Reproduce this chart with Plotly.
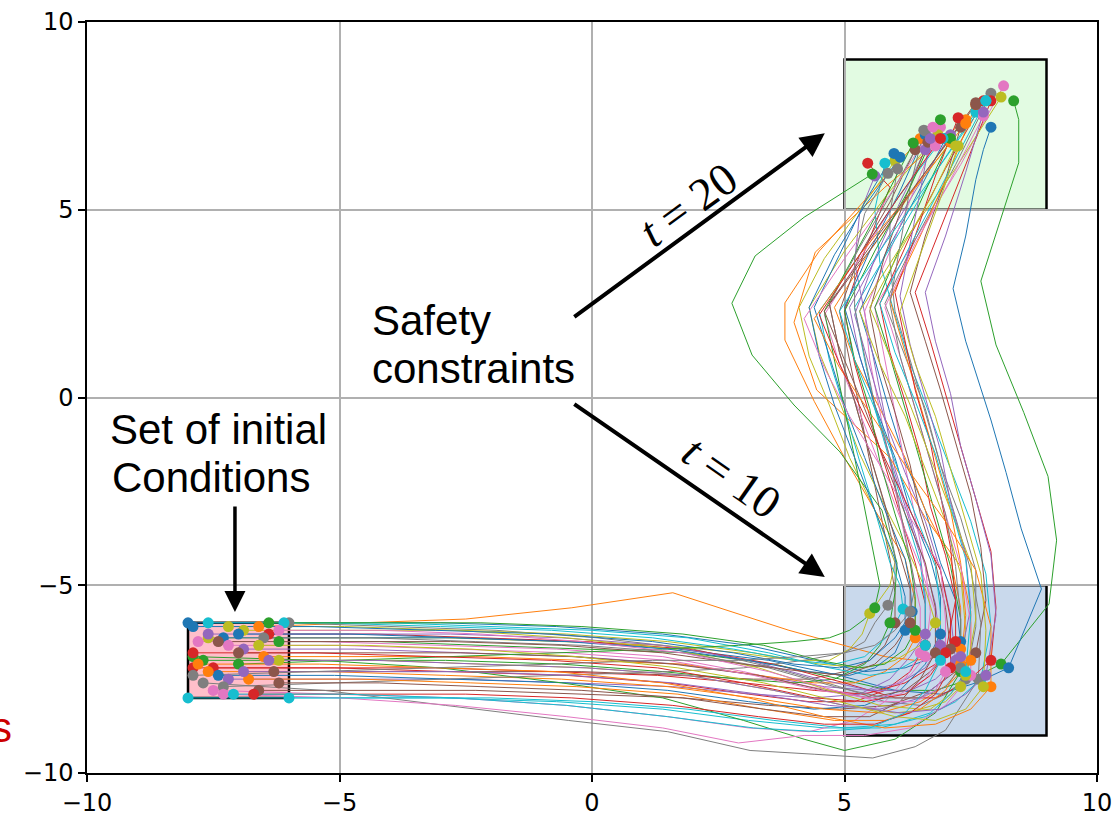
import plotly.graph_objects as go

# ---------------- data ----------------
colors = ["#1f77b4", "#ff7f0e", "#2ca02c", "#d62728", "#9467bd",
          "#8c564b", "#e377c2", "#7f7f7f", "#bcbd22", "#17becf"]

traj_x = [
    [-8.0,-5.5,-3.0,-0.7,1.4,3.1,4.4,5.4,6.2,6.8,7.3, 7.2,6.9,6.6,6.2,5.9,5.6,5.3,5.8,6.4,7.0],
    [-6.6,-4.5,-2.5,-0.4,1.6,3.9,5.0,5.8,6.4,6.9,7.3, 7.3,7.1,6.6,6.2,5.7,5.2,4.8,5.5,6.3,7.1],
    [-6.2,-4.2,-2.2,-0.1,1.9,3.6,4.9,5.9,6.8,7.5,8.1, 9.05,9.2,9.03,8.55,8.0,7.7,8.1,8.45,8.45,8.35],
    [-7.5,-5.1,-2.8,-0.5,1.5,3.1,4.3,5.2,5.8,6.3,6.6, 6.6,6.4,6.1,5.8,5.5,5.2,5.0,5.4,5.9,5.46],
    [-6.9,-4.7,-2.5,-0.3,1.7,3.3,4.6,5.5,6.1,6.6,6.9, 6.8,6.6,6.3,6.0,5.8,5.6,5.4,5.2,5.3,5.6],
    [-6.3,-4.3,-2.3,-0.2,1.7,3.2,4.3,5.0,5.5,5.8,6.0, 6.0,5.9,5.7,5.5,5.3,5.1,4.9,5.3,5.9,6.4],
    [-7.8,-5.4,-3.0,-0.7,1.4,3.0,4.3,5.2,5.8,6.3,6.6, 6.7,6.6,6.4,6.2,6.0,5.8,5.6,6.4,7.3,8.15],
    [-6.0,-3.9,-1.9,0.1,2.0,3.6,4.9,5.8,6.5,7.0,7.4, 7.6,7.6,7.3,6.9,6.6,6.2,5.8,6.4,7.2,7.9],
    [-7.6,-5.2,-2.9,-0.6,1.4,2.9,4.0,4.7,5.1,5.35,5.5, 5.9,6.0,5.6,5.1,4.7,4.3,4.1,4.6,5.3,6.0],
    [-8.0,-5.5,-3.0,-0.7,1.4,3.1,4.6,5.7,6.6,7.2,7.7, 7.9,7.8,7.5,7.1,6.7,6.3,6.0,5.7,5.6,5.8],
    [-7.3,-5.0,-2.7,-0.4,1.7,3.5,4.9,6.0,6.9,7.6,8.25, 8.9,8.5,8.2,7.9,7.4,7.15,7.4,7.6,7.75,7.9],
    [-6.5,-4.4,-2.3,-0.2,1.8,3.3,4.4,5.2,5.8,6.2,6.4, 6.4,6.2,5.6,5.0,4.4,3.82,3.82,4.5,5.5,6.5],
    [-7.7,-5.3,-2.9,-0.6,1.4,2.9,4.0,4.8,5.4,5.7,5.9, 6.0,6.04,5.74,4.91,4.0,3.17,2.77,3.23,4.2,5.55],
    [-7.9,-5.5,-3.1,-0.8,1.3,3.0,4.4,5.4,6.2,6.8,7.2, 7.2,7.0,6.7,6.5,6.2,5.9,5.7,6.3,7.0,7.75],
    [-7.2,-4.9,-2.6,-0.4,1.6,3.2,4.4,5.3,5.9,6.3,6.6, 6.6,6.5,6.2,5.9,5.6,5.3,5.1,5.7,6.4,7.1],
    [-6.6,-4.4,-2.3,-0.2,1.8,3.5,4.9,5.9,6.7,7.2,7.6, 7.8,7.7,7.5,7.2,6.9,6.6,6.3,6.6,7.0,7.3],
    [-7.5,-5.1,-2.7,-0.5,1.5,3.1,4.3,5.2,5.8,6.2,6.5, 6.5,6.3,6.1,5.9,5.7,5.5,5.4,5.9,6.4,6.9],
    [-7.7,-5.3,-2.9,-0.47,1.5,3.13,4.4,5.56,6.4,7.0,7.65, 7.7,7.5,7.2,6.9,6.6,6.3,6.0,5.9,5.9,6.05],
    [-6.9,-4.8,-2.6,-0.5,1.5,3.2,4.5,5.4,6.0,6.5,6.8, 6.6,6.3,5.8,5.3,4.9,4.5,4.3,5.0,5.9,6.85],
    [-6.1,-4.0,-2.0,0.0,1.9,3.5,4.7,5.5,6.0,6.4,6.6, 6.6,6.5,6.2,5.9,5.6,5.4,5.2,6.0,6.8,7.6],
    [-7.4,-5.1,-2.8,-0.5,1.5,3.1,4.4,5.4,6.1,6.6,6.9, 6.9,6.7,6.3,6.0,5.6,5.3,5.0,5.5,6.1,6.6],
    [-7.6,-5.2,-2.9,-0.6,1.5,3.2,4.6,5.7,6.5,7.1,7.5, 7.5,7.3,6.6,5.9,5.1,4.45,4.0,4.42,5.8,7.4],
    [-7.9,-5.4,-3.0,-0.6,1.4,3.0,4.2,5.0,6.0,6.8,7.3, 7.3,7.1,6.8,6.5,6.2,5.9,5.6,6.1,6.6,7.1],
    [-6.4,-4.3,-2.2,-0.1,1.9,3.6,5.0,6.0,6.8,7.4,7.9, 8.0,7.9,7.6,7.3,7.0,6.7,6.4,6.9,7.4,7.9],
    [-7.6,-5.2,-2.8,-0.6,1.4,3.1,4.5,5.5,6.3,6.8,7.2, 7.1,6.9,6.6,6.2,5.8,5.5,5.2,5.6,6.1,6.6],
    [-7.0,-4.8,-2.6,-0.4,1.6,3.3,4.6,5.5,6.2,6.7,7.1, 7.0,6.8,6.5,6.3,6.0,5.7,5.5,5.8,6.2,6.65],
    [-7.2,-5.0,-2.7,-0.5,1.5,3.2,4.5,5.5,6.1,6.6,6.9, 6.8,6.5,6.1,5.7,5.3,4.9,4.6,5.3,6.0,6.8],
    [-7.3,-5.0,-2.7,-0.5,1.5,3.0,4.2,5.0,5.4,5.6,5.86, 6.0,6.0,5.8,5.5,5.2,4.9,4.7,5.3,6.0,6.6],
    [-7.2,-4.9,-2.7,-0.5,1.6,3.3,4.7,5.7,6.5,7.0,7.3, 7.4,7.3,7.0,6.6,6.2,5.7,5.3,6.2,7.2,8.1],
    [-7.6,-5.3,-3.0,-0.8,1.2,2.8,4.0,4.8,5.4,5.9,6.16, 6.1,5.9,5.6,5.3,5.0,4.7,4.5,5.3,6.1,6.95],
    [-7.9,-5.5,-3.1,-0.8,1.2,2.8,4.0,4.9,5.5,6.0,6.34, 6.3,6.2,5.8,5.4,5.0,4.7,4.4,4.9,5.4,5.98],
    [-6.8,-4.6,-2.4,-0.3,1.7,3.4,4.8,5.8,6.5,7.0,7.3, 7.4,7.3,7.1,6.8,6.5,6.2,5.9,6.5,7.1,7.6],
    [-7.0,-4.8,-2.6,-0.5,1.4,2.9,4.0,4.7,5.1,5.4,5.6, 5.7,5.6,5.4,5.2,5.0,4.8,4.6,5.2,5.8,6.36],
    [-7.9,-5.5,-3.1,-0.8,1.3,3.0,4.4,5.4,6.2,6.7,7.0, 7.2,7.1,6.9,6.7,6.4,6.2,6.0,6.4,6.8,7.25],
    [-6.9,-4.7,-2.5,-0.4,1.6,3.3,4.7,5.7,6.5,7.0,7.3, 7.5,7.4,7.1,6.9,6.6,6.3,6.1,6.3,6.5,6.7],
    [-6.2,-4.2,-2.2,-0.2,1.8,3.4,4.6,5.5,6.1,6.5,6.8, 6.8,6.6,6.2,5.8,5.4,5.0,4.6,5.6,6.6,7.6],
    [-7.3,-5.0,-2.7,-0.5,1.4,2.9,4.2,5.4,6.3,7.0,7.5, 7.5,7.3,7.0,6.7,6.4,6.1,5.8,6.4,7.1,7.75],
    [-6.5,-4.4,-2.3,-0.2,1.8,3.5,4.8,5.8,6.5,7.0,7.3, 7.3,7.2,7.0,6.7,6.4,6.1,5.9,6.1,6.3,6.57],
    [-6.2,-4.2,-2.2,-0.1,1.9,3.6,5.0,6.0,6.7,7.1,7.4, 7.6,7.5,7.1,6.7,6.3,5.9,5.5,6.1,6.7,7.2],
    [-6.0,-4.0,-2.0,0.0,1.9,3.6,5.0,6.0,6.7,7.1,7.4, 7.5,7.4,7.1,6.8,6.4,6.0,5.7,6.4,7.1,7.8],
    [-7.0,-4.8,-2.6,-0.5,1.5,3.1,4.3,5.1,5.6,6.0,6.2, 6.2,6.0,5.6,5.2,4.8,4.5,4.3,4.8,5.4,6.1],
    [-7.8,-5.4,-3.0,-0.7,1.4,3.1,4.6,5.8,6.8,7.5,7.9, 7.9,7.6,7.0,6.3,5.6,4.9,4.4,5.3,6.4,7.4],
    [-6.4,-4.3,-2.2,-0.2,1.8,3.4,4.5,5.3,5.8,6.2,6.4, 6.4,6.3,6.0,5.7,5.5,5.2,5.0,5.6,6.3,6.9],
    [-6.7,-4.6,-2.5,-0.4,1.6,3.3,4.6,5.6,6.3,6.8,7.1, 7.1,6.9,6.4,5.9,5.4,4.9,4.5,5.3,6.1,6.9],
    [-6.4,-4.3,-2.2,-0.1,1.9,3.6,5.0,6.1,6.9,7.4,7.8, 8.0,7.9,7.6,7.3,7.1,6.8,6.6,7.0,7.4,7.75],
    [-7.4,-5.1,-2.8,-0.6,1.4,3.0,4.2,5.0,5.6,6.0,6.3, 6.3,6.1,5.8,5.5,5.2,4.9,4.7,5.6,6.6,7.6],
    [-6.2,-4.2,-2.2,-0.2,1.8,3.5,4.8,5.7,6.4,6.8,7.0, 7.0,6.9,6.3,5.7,5.1,4.6,4.2,5.0,5.9,6.75],
    [-7.9,-5.5,-3.1,-0.8,1.2,2.9,4.1,5.0,5.6,6.0,6.3, 6.4,6.3,6.1,5.9,5.6,5.4,5.2,5.2,5.4,5.86],
    [-6.6,-4.5,-2.4,-0.3,1.7,3.4,4.9,6.0,6.8,7.4,7.75, 7.8,7.7,7.4,7.1,6.8,6.4,6.1,6.5,6.9,7.25],
    [-7.1,-4.9,-2.7,-0.5,1.5,3.2,4.5,5.5,6.2,6.6,6.9, 6.9,6.8,6.4,6.0,5.6,5.2,4.9,5.8,6.8,7.8],
]

traj_y = [
    [-6.0,-6.0,-6.0,-6.1,-6.3,-6.6,-7.0,-7.3,-7.2,-6.9,-6.5, -5.4,-4.4,-3.0,-1.7,-0.4,1.0,2.3,3.8,5.3,6.9],
    [-6.1,-6.0,-5.9,-5.6,-5.2,-6.2,-6.6,-6.9,-7.0,-6.9,-6.7, -5.6,-4.3,-3.0,-1.6,-0.3,1.0,2.4,3.9,5.4,6.8],
    [-6.5,-6.5,-6.6,-6.7,-6.8,-7.1,-7.5,-7.8,-7.8,-7.5,-7.1, -5.5,-3.8,-2.1,-0.4,1.4,3.1,4.8,6.25,7.4,7.9],
    [-7.2,-7.2,-7.3,-7.4,-7.6,-7.9,-8.1,-8.1,-7.8,-7.3,-6.6, -5.5,-4.4,-3.1,-1.8,-0.5,0.9,2.3,3.9,5.6,6.24],
    [-6.7,-6.7,-6.8,-6.9,-7.1,-7.4,-7.7,-7.8,-7.6,-7.2,-6.6, -5.5,-4.5,-3.2,-1.9,-0.5,0.9,2.2,3.6,4.9,5.9],
    [-7.3,-7.3,-7.3,-7.3,-7.4,-7.5,-7.5,-7.3,-7.0,-6.6,-6.0, -5.2,-4.3,-3.0,-1.7,-0.3,1.0,2.3,3.8,5.2,6.6],
    [-6.5,-6.5,-6.6,-6.7,-6.9,-7.3,-7.7,-7.9,-7.8,-7.4,-6.9, -5.7,-4.5,-3.2,-1.8,-0.4,1.0,2.4,4.2,6.2,8.3],
    [-6.0,-6.1,-6.2,-6.4,-6.7,-7.2,-7.7,-8.1,-8.2,-7.9,-7.5, -6.1,-4.6,-3.2,-1.8,-0.3,1.1,2.5,4.2,6.2,8.1],
    [-6.4,-6.4,-6.4,-6.5,-6.6,-6.8,-7.0,-7.0,-6.7,-6.3,-5.75, -5.0,-4.4,-3.0,-1.6,-0.2,1.1,2.4,3.7,5.0,6.3],
    [-8.0,-8.0,-8.0,-8.1,-8.3,-8.6,-8.8,-8.8,-8.5,-8.1,-7.5, -6.1,-4.7,-3.3,-1.9,-0.5,0.9,2.2,3.6,5.0,6.24],
    [-6.4,-6.4,-6.4,-6.5,-6.7,-7.0,-7.4,-7.8,-7.9,-7.6,-7.2, -5.1,-3.5,-2.0,-0.6,1.5,2.9,4.3,5.8,6.6,7.2],
    [-6.9,-6.9,-6.9,-7.0,-7.1,-7.4,-7.6,-7.6,-7.3,-6.9,-6.4, -5.4,-4.3,-3.0,-1.6,-0.1,1.53,2.52,3.9,5.4,6.9],
    [-7.0,-7.0,-7.0,-7.1,-7.3,-7.5,-7.6,-7.5,-7.1,-6.6,-6.0, -5.2,-4.41,-3.0,-1.45,-0.2,1.13,2.51,3.77,4.8,5.95],
    [-7.2,-7.2,-7.2,-7.3,-7.4,-7.6,-7.8,-7.9,-7.6,-7.1,-6.5, -5.4,-4.2,-2.9,-1.5,-0.1,1.2,2.5,4.3,6.1,7.9],
    [-7.5,-7.5,-7.5,-7.6,-7.7,-7.9,-8.0,-7.9,-7.5,-6.9,-6.3, -5.3,-4.2,-2.9,-1.6,-0.2,1.1,2.4,3.9,5.5,7.0],
    [-7.8,-7.8,-7.8,-7.9,-8.0,-8.2,-8.3,-8.2,-7.8,-7.3,-6.8, -5.4,-4.0,-2.6,-1.2,0.2,1.5,2.8,4.3,5.8,7.2],
    [-7.8,-7.9,-8.0,-8.2,-8.5,-8.8,-8.9,-8.6,-8.1,-7.5,-6.8, -5.6,-4.4,-3.1,-1.7,-0.4,1.0,2.3,3.9,5.6,7.2],
    [-7.6,-7.8,-8.2,-8.6,-8.9,-9.4,-9.5,-9.6,-9.3,-8.86,-7.5, -6.0,-4.6,-3.2,-1.8,-0.4,1.0,2.3,3.6,4.9,6.09],
    [-6.2,-6.2,-6.2,-6.3,-6.5,-6.8,-7.1,-7.2,-7.0,-6.6,-6.0, -5.1,-4.2,-2.9,-1.5,-0.1,1.2,2.4,3.9,5.5,7.0],
    [-6.0,-6.0,-6.1,-6.2,-6.4,-6.8,-7.2,-7.4,-7.3,-7.0,-6.6, -5.5,-4.4,-3.1,-1.7,-0.3,1.0,2.4,4.2,6.0,7.6],
    [-7.4,-7.4,-7.5,-7.6,-7.8,-8.1,-8.3,-8.2,-7.8,-7.1,-6.3, -5.3,-4.3,-3.0,-1.6,-0.2,1.1,2.4,3.9,5.5,7.0],
    [-7.3,-7.3,-7.4,-7.5,-7.7,-8.0,-8.3,-8.4,-8.1,-7.6,-7.0, -5.7,-4.5,-3.2,-1.6,-0.6,0.2,2.0,3.87,5.6,7.4],
    [-6.9,-7.0,-7.2,-7.6,-8.0,-8.6,-9.1,-9.4,-9.1,-8.4,-7.3, -5.9,-4.5,-3.1,-1.7,-0.3,1.1,2.4,4.0,5.5,6.9],
    [-6.3,-6.3,-6.4,-6.5,-6.7,-7.1,-7.6,-8.0,-8.0,-7.6,-7.0, -5.6,-4.1,-2.7,-1.3,0.1,1.5,2.8,4.5,6.2,7.9],
    [-6.3,-6.3,-6.3,-6.4,-6.6,-7.0,-7.5,-7.8,-7.8,-7.5,-7.0, -5.8,-4.6,-3.3,-2.0,-0.6,0.8,2.2,3.7,5.2,6.6],
    [-6.8,-6.8,-6.8,-6.9,-7.1,-7.4,-7.8,-8.0,-7.8,-7.3,-6.7, -5.6,-4.4,-3.1,-1.8,-0.4,0.9,2.3,3.8,5.3,6.8],
    [-6.6,-6.6,-6.7,-6.8,-7.0,-7.4,-7.8,-8.0,-7.9,-7.5,-6.9, -5.7,-4.5,-3.2,-1.8,-0.4,0.9,2.2,3.7,5.2,6.7],
    [-7.7,-7.6,-7.5,-7.4,-7.3,-7.2,-7.0,-6.8,-6.5,-6.0,-5.53, -4.9,-4.2,-2.9,-1.5,-0.1,1.2,2.5,4.0,5.6,7.1],
    [-6.1,-6.1,-6.2,-6.4,-6.7,-7.2,-7.8,-8.2,-8.3,-8.1,-7.7, -6.2,-4.7,-3.3,-1.9,-0.5,0.9,2.3,4.2,6.1,8.0],
    [-6.0,-6.0,-6.1,-6.2,-6.4,-6.7,-7.0,-7.1,-6.9,-6.3,-5.63, -5.0,-4.4,-3.0,-1.7,-0.3,1.0,2.3,3.8,5.4,6.9],
    [-6.1,-6.1,-6.2,-6.3,-6.5,-6.8,-7.1,-7.2,-7.0,-6.4,-5.7, -5.0,-4.3,-3.0,-1.6,-0.2,1.1,2.4,3.8,5.2,6.5],
    [-7.5,-7.5,-7.6,-7.7,-7.9,-8.3,-8.6,-8.6,-8.3,-7.8,-7.1, -5.8,-4.4,-3.0,-1.6,-0.2,1.2,2.6,4.3,6.1,7.8],
    [-7.1,-7.0,-6.9,-6.8,-6.7,-6.6,-6.5,-6.4,-6.2,-5.9,-5.6, -5.0,-4.3,-3.0,-1.6,-0.3,1.0,2.3,3.8,5.3,6.78],
    [-6.8,-6.8,-6.9,-7.0,-7.2,-7.6,-8.0,-8.1,-7.9,-7.4,-6.8, -5.4,-4.0,-2.6,-1.2,0.2,1.5,2.8,4.3,5.9,7.45],
    [-7.3,-7.3,-7.3,-7.4,-7.6,-7.9,-8.2,-8.3,-8.0,-7.5,-6.9, -5.6,-4.2,-2.8,-1.4,0.0,1.4,2.7,4.1,5.5,6.9],
    [-7.6,-7.6,-7.7,-7.8,-8.0,-8.3,-8.5,-8.5,-8.1,-7.5,-6.8, -5.6,-4.4,-3.1,-1.7,-0.3,1.0,2.3,4.1,6.0,7.85],
    [-7.9,-8.0,-8.2,-8.5,-8.8,-9.2,-9.0,-9.0,-8.8,-8.2,-7.4, -6.0,-4.5,-3.1,-1.7,-0.3,1.1,2.4,4.1,5.8,7.5],
    [-6.4,-6.4,-6.5,-6.6,-6.8,-7.2,-7.7,-8.0,-8.0,-7.7,-7.2, -5.9,-4.5,-3.1,-1.7,-0.3,1.1,2.5,4.0,5.6,7.12],
    [-7.0,-7.0,-7.1,-7.2,-7.4,-7.8,-8.2,-8.4,-8.3,-7.9,-7.4, -5.9,-4.4,-3.0,-1.6,-0.2,1.1,2.4,3.9,5.3,6.7],
    [-8.0,-8.0,-8.0,-8.1,-8.3,-8.6,-8.8,-8.7,-8.4,-7.9,-7.3, -5.8,-4.3,-2.9,-1.5,-0.1,1.2,2.5,4.3,6.1,7.9],
    [-6.3,-6.3,-6.4,-6.5,-6.7,-7.0,-7.3,-7.4,-7.2,-6.8,-6.2, -5.3,-4.3,-3.0,-1.6,-0.2,1.1,2.4,3.8,5.1,6.4],
    [-7.1,-7.1,-7.2,-7.3,-7.6,-8.0,-8.5,-8.8,-8.7,-8.3,-7.7, -6.1,-4.6,-3.3,-2.0,-0.6,0.8,2.1,3.8,5.6,7.3],
    [-6.0,-6.0,-6.0,-6.1,-6.3,-6.6,-7.0,-7.2,-7.1,-6.7,-6.2, -5.3,-4.4,-3.1,-1.7,-0.3,1.0,2.3,3.9,5.6,7.4],
    [-7.9,-7.9,-7.9,-8.0,-8.2,-8.5,-8.7,-8.7,-8.4,-7.9,-7.2, -5.9,-4.6,-3.3,-1.9,-0.5,0.9,2.2,3.8,5.4,6.9],
    [-7.0,-7.0,-7.1,-7.2,-7.4,-7.8,-8.2,-8.4,-8.3,-7.9,-7.4, -5.8,-4.2,-2.7,-1.3,0.1,1.5,2.8,4.3,6.0,7.6],
    [-6.5,-6.5,-6.5,-6.6,-6.8,-7.1,-7.3,-7.4,-7.1,-6.6,-6.0, -5.1,-4.2,-2.9,-1.5,-0.1,1.2,2.5,4.2,6.0,7.8],
    [-6.2,-6.2,-6.3,-6.5,-6.8,-7.3,-7.8,-8.1,-8.1,-7.8,-7.3, -5.9,-4.5,-3.2,-1.8,-0.5,0.8,2.1,3.7,5.4,7.2],
    [-7.4,-7.3,-7.2,-7.1,-7.0,-7.0,-6.9,-6.8,-6.6,-6.2,-5.7, -5.0,-4.3,-3.0,-1.6,-0.2,1.1,2.4,3.7,4.9,5.97],
    [-6.6,-6.6,-6.7,-6.9,-7.2,-7.6,-8.1,-8.5,-8.6,-8.3,-7.7, -6.2,-4.7,-3.3,-1.9,-0.5,0.9,2.3,3.8,5.3,6.7],
    [-7.9,-7.9,-8.0,-8.2,-8.5,-8.8,-8.9,-8.8,-8.4,-7.8,-7.0, -5.7,-4.5,-3.1,-1.7,-0.3,1.0,2.3,4.1,6.0,7.9],
]

marked_steps = [0, 10, 20]          # time steps shown as dots

init_set = (-8, -6, -8, -6)         # x0, x1, y0, y1
set_t10 = (5, 9, -9, -5)
set_t20 = (5, 9, 5, 9)

tick_vals = [-10, -5, 0, 5, 10]

# ---------------- figure ----------------
fig = go.Figure()

for i, (xs, ys) in enumerate(zip(traj_x, traj_y)):
    fig.add_trace(go.Scatter(x=xs, y=ys, mode="lines",
                             line=dict(color=colors[i % 10], width=1),
                             showlegend=False, hoverinfo="skip"))

for i, (xs, ys) in enumerate(zip(traj_x, traj_y)):
    fig.add_trace(go.Scatter(x=[xs[k] for k in marked_steps],
                             y=[ys[k] for k in marked_steps],
                             mode="markers",
                             marker=dict(color=colors[i % 10], size=11, line=dict(width=0)),
                             showlegend=False, hoverinfo="skip"))

def rect(b, fill):
    return dict(type="rect", xref="x", yref="y", x0=b[0], x1=b[1], y0=b[2], y1=b[3],
                fillcolor=fill, line=dict(color="black", width=2.5), layer="below")

fig.add_shape(**rect(init_set, "#ffbfca"))
fig.add_shape(**rect(set_t10, "#c9d9ec"))
fig.add_shape(**rect(set_t20, "#e2fbe2"))

text_font = dict(family="Liberation Sans, Arial, sans-serif", size=42, color="black")
math_font = dict(family="Liberation Serif, Times New Roman, serif", size=46, color="black")

def label(txt, x, y, font=text_font, angle=0, xanchor="left"):
    fig.add_annotation(x=x, y=y, xref="x", yref="y", text=txt, showarrow=False,
                       font=font, xanchor=xanchor, yanchor="middle", textangle=angle)

label("Safety", -4.40, 2.04)
label("constraints", -4.40, 0.76)
label("Set of initial", -9.58, -0.84)
label("Conditions", -9.54, -2.14)
label("<i>t</i> = 20", 1.90, 5.15, font=math_font, angle=-36, xanchor="center")
label("<i>t</i> = 10", 2.78, -2.12, font=math_font, angle=35, xanchor="center")

def arrow(x0, y0, x1, y1, w):
    fig.add_annotation(x=x1, y=y1, ax=x0, ay=y0, xref="x", yref="y", axref="x", ayref="y",
                       text="", showarrow=True, arrowhead=2, arrowsize=1.2,
                       arrowwidth=w, arrowcolor="black", standoff=0)

arrow(-0.38, 2.12, 4.61, 7.04, 4)
arrow(-0.38, -0.15, 4.61, -4.78, 4)
arrow(-7.07, -2.86, -7.07, -5.71, 3.5)

# partially visible red label at the left border
fig.add_annotation(x=-0.0723, y=0.06, xref="paper", yref="paper", text="s",
                   showarrow=False, xanchor="right", yanchor="middle",
                   font=dict(family="Liberation Sans, Arial, sans-serif", size=42, color="#cc0000"))

axis_common = dict(range=[-10, 10], tickvals=tick_vals, showgrid=True, gridcolor="#b0b0b0",
                   gridwidth=1.5, zeroline=False, showline=True, linecolor="black",
                   linewidth=1.5, mirror=True, ticks="outside", ticklen=7, tickwidth=1.5,
                   tickcolor="black", automargin=False,
                   tickfont=dict(family="DejaVu Sans, sans-serif", size=24, color="black"))

fig.update_xaxes(**axis_common)
fig.update_yaxes(**axis_common)

fig.update_layout(width=1118, height=818, margin=dict(l=87, r=21, t=22, b=45),
                  paper_bgcolor="white", plot_bgcolor="white", showlegend=False)

fig.write_html("out.html", config={"displayModeBar": False},
               post_script="document.body.style.margin='0';document.body.style.overflow='hidden';")
